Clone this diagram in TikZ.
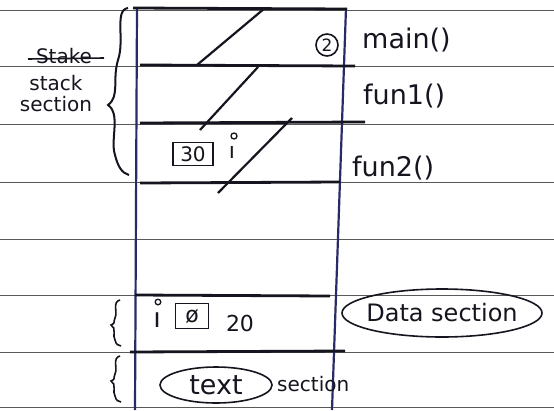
\documentclass[tikz,border=0pt]{standalone}
\usepackage{fontspec}
\setmainfont{DejaVu Sans}
\usetikzlibrary{shapes.geometric}
\definecolor{pen}{HTML}{15151F}
\definecolor{bluepen}{HTML}{2A2A66}
\tikzset{
  paper/.style={draw=black!65, line width=1pt},
  penline/.style={draw=pen, line width=2.8pt},
  boxline/.style={draw=bluepen, line width=2.2pt},
  hand/.style={text=pen, inner sep=0pt, font=\fontsize{27}{30}\selectfont},
  mid/.style={text=pen, inner sep=0pt, font=\fontsize{22}{25}\selectfont},
  small/.style={text=pen, inner sep=0pt, font=\fontsize{20}{22}\selectfont},
}
\begin{document}
\begin{tikzpicture}[x=1pt,y=-1pt]
\useasboundingbox (0,0) rectangle (554,410);
\fill[white] (0,0) rectangle (554,410);
% ruled paper lines
\foreach \yy in {10,66,124,182,239,295,352,407} {
  \draw[paper] (0,\yy) -- (554,\yy);
}
% memory box
\draw[boxline] (137,8) -- (135,410);
\draw[boxline] (346,8) -- (332,410);
\draw[penline] (133,8) -- (347,9);
\draw[penline] (140,65) -- (355,66);
\draw[penline] (140,123) -- (365,122);
\draw[penline] (140,183) -- (340,182);
\draw[penline] (135,295) -- (330,296);
\draw[penline] (130,352) -- (345,351);
% diagonal strikes
\draw[pen, line width=2.2pt] (197,65) -- (265,8);
\draw[pen, line width=2.2pt] (200,130) -- (258,67);
\draw[pen, line width=2.2pt] (218,193) -- (292,118);
% big brace (stack section)
\draw[pen, line width=2pt] (128,8) .. controls (114,10) and (125,40) .. (118,60)
  .. controls (112,80) and (120,96) .. (108,105)
  .. controls (121,114) and (110,140) .. (115,155)
  .. controls (118,167) and (122,173) .. (129,175);
% small braces
\draw[pen, line width=1.6pt] (120,300) .. controls (112,302) and (118,312) .. (115,318)
  .. controls (113,322) and (116,323) .. (111,325)
  .. controls (117,328) and (112,336) .. (115,340)
  .. controls (116,344) and (118,346) .. (121,346);
\draw[pen, line width=1.6pt] (120,356) .. controls (112,358) and (118,368) .. (115,374)
  .. controls (113,378) and (116,379) .. (111,381)
  .. controls (117,384) and (112,392) .. (115,396)
  .. controls (116,400) and (118,402) .. (121,402);
% left labels
\node[small] (stake) at (64,56) {Stake};
\draw[pen, line width=1.6pt] (28,59) -- (104,58);
\node[small] (stack) at (56,83) {stack};
\node[small] (section) at (56,104) {section};
% circled 2
\node[draw=pen, circle, line width=1.6pt, minimum size=22pt, inner sep=0pt, text=pen,
  font=\fontsize{17}{19}\selectfont] (two) at (327,45) {2};
% function labels
\node[hand, anchor=west] (main) at (362,40) {main()};
\node[hand, anchor=west] (fun1) at (363,96) {fun1()};
\node[hand, anchor=west] (fun2) at (352,168) {fun2()};
% boxed 30 and i
\node[draw=pen, line width=1.6pt, minimum width=40pt, minimum height=23pt, inner sep=0pt,
  text=pen, font=\fontsize{20}{22}\selectfont] (thirty) at (193,154) {30};
\node[mid] (ivar) at (232,152) {ı};
\draw[pen, line width=1.3pt] (234,136) circle (3pt);
% data section row
\node[hand] (ivar2) at (157,320) {ı};
\draw[pen, line width=1.3pt] (158,302) circle (2.8pt);
\node[draw=pen, line width=1.6pt, minimum width=33pt, minimum height=25pt, inner sep=0pt,
  text=pen, font=\fontsize{22}{24}\selectfont] (zero) at (192,316) {ø};
\node[mid] (twenty) at (240,323) {20};
\node[text=pen, inner sep=0pt, font=\fontsize{24}{27}\selectfont] (data) at (442,313) {Data section};
\draw[pen, line width=1.6pt] (data.center) ellipse (100pt and 24pt);
% text section row
\node[hand] (text) at (216,385) {text};
\draw[pen, line width=1.6pt] (text.center) ellipse (56pt and 18pt);
\node[small, anchor=west] (textsec) at (277,384) {section};
\end{tikzpicture}
\end{document}
